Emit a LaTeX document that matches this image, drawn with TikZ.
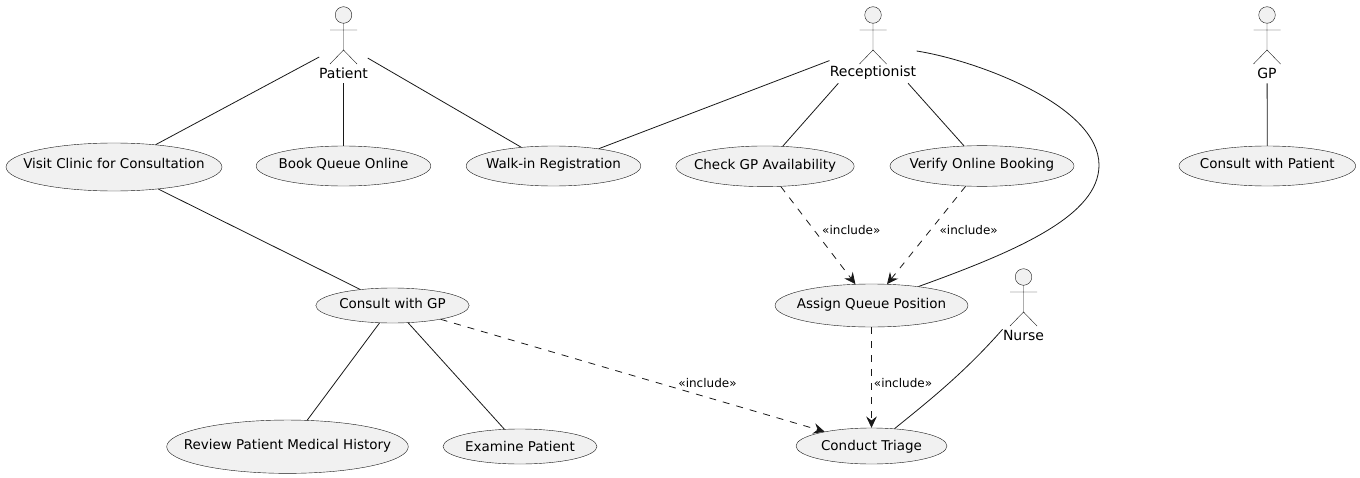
\documentclass[tikz,border=0pt]{standalone}
\usepackage{fontspec}
\setmainfont{DejaVu Sans}
\usetikzlibrary{shapes.geometric,arrows.meta}
\definecolor{ucfill}{HTML}{F1F1F1}
\definecolor{ucline}{HTML}{181818}
\newcommand{\uctext}[1]{\makebox[0pt]{#1}}
\begin{document}
\begin{tikzpicture}[x=0.75pt,y=-0.75pt]
		\useasboundingbox (0,0) rectangle (1360,478);
		
		\tikzstyle{myusecase}=[ellipse,
		draw=ucline,
		line width=0.3pt,
		fill=ucfill,
		inner sep=0pt,
		text height=7.3pt,
		text depth=3pt,
		font=\fontsize{10.1pt}{12pt}\selectfont
		]
		\tikzstyle{myactorbox}=[rectangle,
		inner sep=0pt,
		minimum height=58.5pt
		]
		\tikzstyle{myname}=[inner sep=0pt,
		font=\fontsize{10.5pt}{12pt}\selectfont
		]
		\tikzstyle{mylabel}=[inner sep=0pt,
		font=\fontsize{9pt}{11pt}\selectfont
		]
		\tikzstyle{mylink}=[draw=ucline,line width=0.6pt]
		\tikzstyle{myinclude}=[mylink,
		dash pattern=on 5.25pt off 5.25pt,
		-{Stealth[length=8.5pt,width=8pt,inset=3pt]}
		]
		\tikzset{myfigure/.pic={
			\draw[draw=ucline,line width=0.3pt,fill=ucfill] (0,-29) circle[radius=8.3];
			\draw[draw=ucline,line width=0.3pt] (0,-21) -- (0,6) (-13.5,-14) -- (13.5,-14)
				(-13.5,20) -- (0,6) -- (13.5,20);
		}}
		
		% actors
		\coordinate (pa1) at (343.5, 44);
		\coordinate (pa2) at (873, 44);
		\coordinate (pa3) at (1267, 44);
		\coordinate (pa4) at (1023.5, 306);
		
		\node[myactorbox,minimum width=36pt] (patient) at (pa1) {};
		\node[myactorbox,minimum width=65pt] (receptionist) at (pa2) {};
		\node[myactorbox,minimum width=14pt] (gp) at (pa3) {};
		\node[myactorbox,minimum width=31pt] (nurse) at (pa4) {};
		
		\pic at (pa1) {myfigure};
		\pic at (pa2) {myfigure};
		\pic at (pa3) {myfigure};
		\pic at (pa4) {myfigure};
		
		\node[myname] (tpatient) at (343.5, 73) {Patient};
		\node[myname] (treceptionist) at (873, 73) {Receptionist};
		\node[myname] (tgp) at (1267, 73) {GP};
		\node[myname] (tnurse) at (1023.5, 335) {Nurse};
		
		% use cases
		\node[myusecase,minimum width=162pt,minimum height=36pt,text depth=4.5pt] (visit) at (114, 167) {\uctext{Visit Clinic for Consultation}};
		\node[myusecase,minimum width=131pt,minimum height=30pt] (book) at (343.5, 166) {\uctext{Book Queue Online}};
		\node[myusecase,minimum width=131pt,minimum height=30pt] (walkin) at (553.5, 166) {\uctext{Walk-in Registration}};
		\node[myusecase,minimum width=133.7pt,minimum height=30.5pt] (check) at (765, 166.3) {\uctext{Check GP Availability}};
		\node[myusecase,minimum width=138pt,minimum height=30.5pt] (verify) at (982, 166) {\uctext{Verify Online Booking}};
		\node[myusecase,minimum width=132.5pt,minimum height=30pt] (consultp) at (1267.3, 166) {\uctext{Consult with Patient}};
		\node[myusecase,minimum width=115pt,minimum height=26.25pt] (consultgp) at (392.5, 305.5) {\uctext{Consult with GP}};
		\node[myusecase,minimum width=144.7pt,minimum height=32.25pt] (assign) at (871.5, 305.5) {\uctext{Assign Queue Position}};
		\node[myusecase,minimum width=181.2pt,minimum height=40pt] (review) at (287.5, 446.7) {\uctext{Review Patient Medical History}};
		\node[myusecase,minimum width=115.5pt,minimum height=26.25pt,text depth=0pt] (examine) at (520, 446.5) {\uctext{Examine Patient}};
		\node[myusecase,minimum width=113.25pt,minimum height=27pt,text depth=0.7pt] (triage) at (871.5, 446) {\uctext{Conduct Triage}};
		
		% connectors
		\draw[mylink] (patient) -- (visit);
		\draw[mylink] (patient) -- (book);
		\draw[mylink] (patient) -- (walkin);
		\draw[mylink] (receptionist) -- (walkin);
		\draw[mylink] (receptionist) -- (check);
		\draw[mylink] (receptionist) -- (verify);
		\draw[mylink] (gp) -- (consultp);
		\draw[mylink] (visit) -- (consultgp);
		\draw[mylink] (consultgp) -- (review);
		\draw[mylink] (consultgp) -- (examine);
		\draw[mylink] ([yshift=-5.25pt]receptionist.east) .. controls (975,60) and (1099,105) .. (1099,165)
			.. controls (1099,215) and (1020,250) .. (assign.22);
		\draw[mylink] ([yshift=12pt]nurse.south west) .. controls (965,372) and (930,400) .. (triage.37);
		
		\draw[myinclude] (check.-52.7) -- (assign.127.5);
		\draw[myinclude] (verify.-129) -- (assign.54.7);
		\draw[myinclude] (assign) -- (triage);
		\draw[myinclude] (consultgp.-16.7) -- (triage.163.8);
		
		\node[mylabel] (l1) at (851.3, 230) {«include»};
		\node[mylabel] (l2) at (968.7, 230) {«include»};
		\node[mylabel] (l3) at (903, 383) {«include»};
		\node[mylabel] (l4) at (707.5, 383) {«include»};
\end{tikzpicture}
\end{document}
